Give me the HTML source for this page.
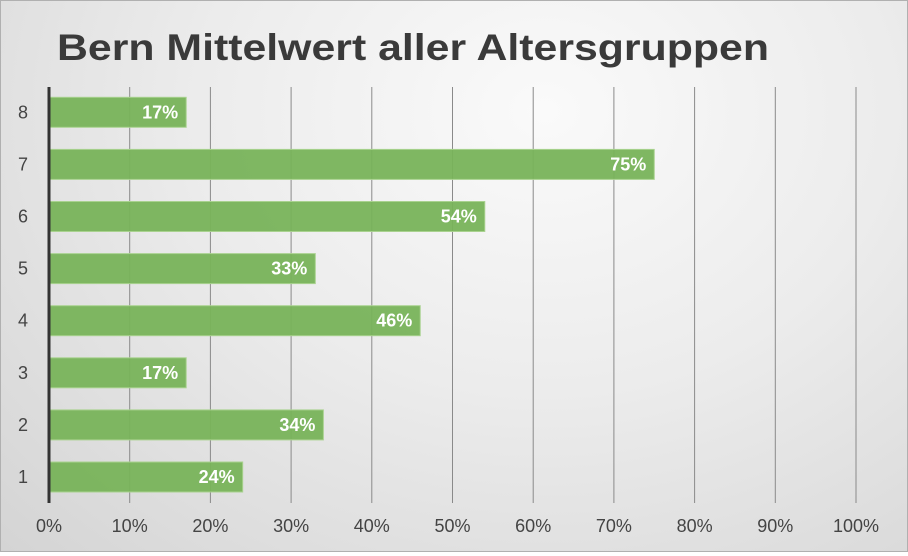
<!DOCTYPE html>
<html><head><meta charset="utf-8"><style>
html,body{margin:0;padding:0}
body{width:908px;height:552px;overflow:hidden;font-family:"Liberation Sans",Arial,sans-serif}
#c{position:absolute;left:0;top:0;width:906px;height:550px;border:1px solid #b0b0b0;background:radial-gradient(ellipse at 60% 20%,#fafafa 0%,#ececec 45%,#d4d4d4 100%)}
</style></head><body>
<div id="c">
<svg id="s" width="906" height="550">
<text x="56" y="59" font-size="37" font-weight="bold" fill="#3a3a3a" textLength="712" lengthAdjust="spacingAndGlyphs">Bern Mittelwert aller Altersgruppen</text>
</svg></div>
<script>
const categories=["1","2","3","4","5","6","7","8"];
const values=[24,34,17,46,33,54,75,17];
const ticks=[0,10,20,30,40,50,60,70,80,90,100];
const NS="http://www.w3.org/2000/svg";
const s=document.getElementById('s');
const x0=48,pxPer=8.07,yTop=86,yBot=502;
const xs=v=>x0+v*pxPer;
const ys=i=>476-i*52.1;
function mk(t,a){const e=document.createElementNS(NS,t);for(const k in a)e.setAttribute(k,a[k]);s.appendChild(e);return e;}
ticks.forEach(t=>{
 if(t>0){const l=mk('line',{x1:xs(t),x2:xs(t),y1:yTop,y2:yBot,stroke:'#8a8a8a','stroke-width':1});
 
 }
 const tx=mk('text',{x:xs(t),y:531,'text-anchor':'middle','font-size':18,fill:'#444'});
 tx.textContent=t+'%';
 
 
});
categories.forEach((c,i)=>{
 const y=ys(i);
 const r=mk('rect',{x:x0,y:y-15,width:xs(values[i])-x0,height:30,fill:'#78b35a','fill-opacity':0.95,stroke:'#a9d28f','stroke-width':1});
 
 
 const v=mk('text',{x:xs(values[i])-8,y:y+6,'text-anchor':'end','font-size':18,'font-weight':'bold',fill:'#fff'});
 v.textContent=values[i]+'%';
 
 
 const l=mk('text',{x:22,y:y+6,'text-anchor':'middle','font-size':18,fill:'#444'});
 l.textContent=c;
 
 
});
const ax=mk('line',{x1:x0,x2:x0,y1:yTop,y2:yBot,stroke:'#333','stroke-width':3});


</script>
</body></html>
